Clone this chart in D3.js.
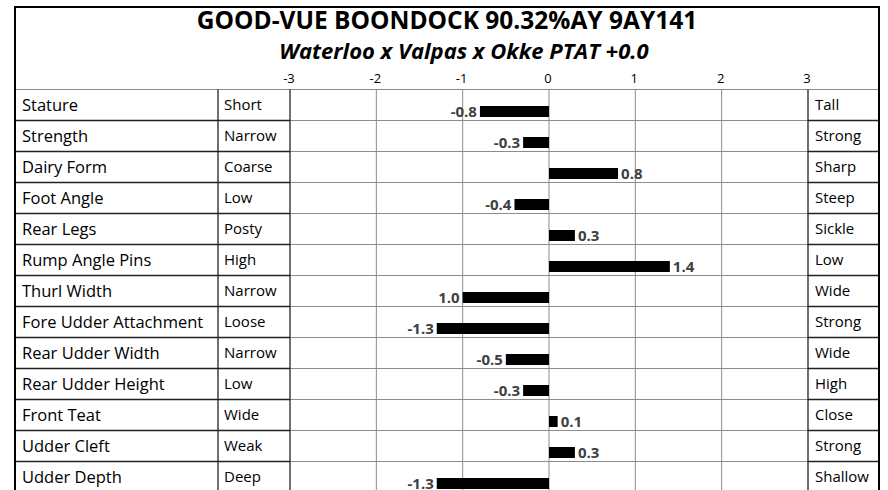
<!DOCTYPE html>
<html lang="en">
<head>
  <meta charset="UTF-8">
  <title>Linear profile</title>
  <script src="https://d3js.org/d3.v7.min.js"></script>
  <style>
    body { margin: 0; background: white; }
    text { font-family: "Open Sans", sans-serif; }
    .grid { stroke: #8c8c8c; stroke-width: 1px; }
    .cellLine { stroke: #222; stroke-width: 1.3px; }
    .bar { fill: black; }
    .valLabel { font-weight: bold; font-size: 15px; fill: #404040; }
  </style>
</head>
<body>
  <svg id="chart" width="888" height="490"></svg>
<script>
  // chart data
  const traits = ["Stature", "Strength", "Dairy Form", "Foot Angle", "Rear Legs", "Rump Angle Pins",
                  "Thurl Width", "Fore Udder Attachment", "Rear Udder Width", "Rear Udder Height",
                  "Front Teat", "Udder Cleft", "Udder Depth"];
  const lowLabels = ["Short", "Narrow", "Coarse", "Low", "Posty", "High", "Narrow", "Loose",
                     "Narrow", "Low", "Wide", "Weak", "Deep"];
  const highLabels = ["Tall", "Strong", "Sharp", "Steep", "Sickle", "Low", "Wide", "Strong",
                      "Wide", "High", "Close", "Strong", "Shallow"];
  const values = [-0.8, -0.3, 0.8, -0.4, 0.3, 1.4, -1.0, -1.3, -0.5, -0.3, 0.1, 0.3, -1.3];
  const valueText = ["-0.8", "-0.3", "0.8", "-0.4", "0.3", "1.4", "1.0", "-1.3", "-0.5", "-0.3", "0.1", "0.3", "-1.3"];
  const ticks = [-3, -2, -1, 0, 1, 2, 3];

  const title = "GOOD-VUE BOONDOCK 90.32%AY 9AY141";
  const subtitle = "Waterloo x Valpas x Okke PTAT +0.0";

  const svg = d3.select("#chart");
  const width = +svg.attr("width");
  const height = +svg.attr("height");

  const box = { left: 15, right: 879, top: 7 };
  const colLow = 218, colChart = 290, colHigh = 808;
  const rowTop = 89.5, rowH = 31;

  const x = d3.scaleLinear().domain([-3, 3]).range([colChart, colHigh]);
  const y = d3.scaleBand().domain(traits).range([rowTop, rowTop + rowH * traits.length]);

  const rows = traits.map((t, i) => ({ trait: t, low: lowLabels[i], high: highLabels[i], value: values[i], txt: valueText[i] }));

  // titles
  svg.append("text").attr("x", 447).attr("y", 28.5)
     .attr("text-anchor", "middle").style("font-weight", "bold").style("font-size", "24.5px")
     .text(title);
  svg.append("text").attr("x", 464).attr("y", 58.5)
     .attr("text-anchor", "middle").style("font-weight", "bold").style("font-style", "italic")
     .style("font-size", "22px")
     .text(subtitle);

  // tick labels over the grid
  svg.selectAll("text.tick").data(ticks).join("text")
     .attr("class", "tick")
     .attr("x", d => x(d) - 1).attr("y", 83)
     .attr("text-anchor", "middle").style("font-size", "13px")
     .text(d => d);

  // gray grid in chart area
  const grid = svg.append("g");
  grid.selectAll("line.v").data(ticks.slice(1, -1)).join("line")
      .attr("class", "grid")
      .attr("x1", d => x(d)).attr("x2", d => x(d))
      .attr("y1", rowTop).attr("y2", height);
  grid.selectAll("line.h").data(traits).join("line")
      .attr("class", "grid")
      .attr("x1", colChart).attr("x2", colHigh)
      .attr("y1", d => y(d)).attr("y2", d => y(d));
  grid.append("line").attr("class", "grid")
      .attr("x1", box.left).attr("x2", box.right).attr("y1", rowTop).attr("y2", rowTop);

  // label cell lines
  const cells = svg.append("g");
  cells.selectAll("line.l").data(traits.slice(1)).join("line")
       .attr("class", "cellLine")
       .attr("x1", box.left).attr("x2", colChart)
       .attr("y1", d => y(d)).attr("y2", d => y(d));
  cells.selectAll("line.r").data(traits.slice(1)).join("line")
       .attr("class", "cellLine")
       .attr("x1", colHigh).attr("x2", box.right)
       .attr("y1", d => y(d)).attr("y2", d => y(d));
  [colLow, colChart, colHigh].forEach(cx => {
    cells.append("line").attr("class", "cellLine")
         .attr("x1", cx).attr("x2", cx).attr("y1", rowTop).attr("y2", height);
  });

  // bars
  svg.selectAll("rect.bar").data(rows).join("rect")
     .attr("class", "bar")
     .attr("x", d => Math.min(x(0), x(d.value)))
     .attr("width", d => Math.abs(x(d.value) - x(0)))
     .attr("y", d => y(d.trait) + 16.5)
     .attr("height", 11);

  svg.selectAll("text.valLabel").data(rows).join("text")
     .attr("class", "valLabel")
     .attr("x", d => d.value < 0 ? x(d.value) - 3 : x(d.value) + 3)
     .attr("y", d => y(d.trait) + 27.5)
     .attr("text-anchor", d => d.value < 0 ? "end" : "start")
     .text(d => d.txt);

  // row text
  svg.selectAll("text.trait").data(rows).join("text")
     .attr("x", 22).attr("y", d => y(d.trait) + 21)
     .style("font-size", "16.5px").text(d => d.trait);
  svg.selectAll("text.low").data(rows).join("text")
     .attr("x", colLow + 6).attr("y", d => y(d.trait) + 20)
     .style("font-size", "15px").text(d => d.low);
  svg.selectAll("text.high").data(rows).join("text")
     .attr("x", colHigh + 7).attr("y", d => y(d.trait) + 20)
     .style("font-size", "15px").text(d => d.high);

  // outer frame
  svg.append("path")
     .attr("d", `M${box.left},${height} V${box.top} H${box.right} V${height}`)
     .attr("fill", "none").attr("stroke", "black").attr("stroke-width", 2);
</script>
</body>
</html>
